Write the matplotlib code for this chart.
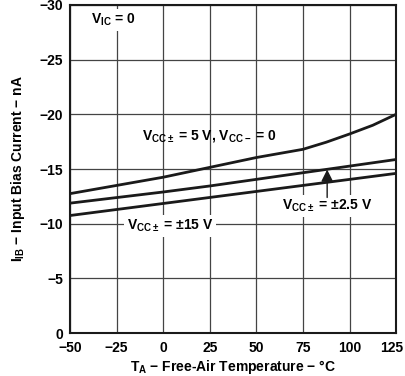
import matplotlib.pyplot as plt
import matplotlib.transforms as mtransforms
import numpy as np

plt.rcParams['font.family'] = ['Liberation Sans', 'DejaVu Sans']
plt.rcParams['font.weight'] = 'bold'
plt.rcParams['axes.labelweight'] = 'bold'
plt.rcParams['mathtext.fontset'] = 'custom'
plt.rcParams['mathtext.rm'] = 'Liberation Sans:bold'
plt.rcParams['mathtext.it'] = 'Liberation Sans:bold'
plt.rcParams['mathtext.bf'] = 'Liberation Sans:bold'

# temperatures (°C) and input bias current (nA)
temp_5v = [-50, -25, 0, 25, 50, 75, 87.5, 100, 112.5, 125]
ib_5v = [-12.75, -13.5, -14.25, -15.15, -16.05, -16.8, -17.45, -18.2, -19.0, -20.0]

temp_2p5v = [-50, 0, 25, 125]
ib_2p5v = [-11.88, -12.9, -13.45, -15.87]

temp_15v = [-50, 25, 125]
ib_15v = [-10.75, -12.4, -14.6]

xticks = [-50, -25, 0, 25, 50, 75, 100, 125]
yticks = [0, -5, -10, -15, -20, -25, -30]

fig = plt.figure(figsize=(4.05, 3.76), dpi=100)
ax = fig.add_axes([0.173, 0.114, 0.805, 0.873])

ax.plot(temp_5v, ib_5v, color='#1a1a1a', lw=2)
ax.plot(temp_2p5v, ib_2p5v, color='#1a1a1a', lw=2)
ax.plot(temp_15v, ib_15v, color='#1a1a1a', lw=2)

ax.set_xlim(-50, 125)
ax.set_ylim(0, -30)
ax.set_xticks(xticks)
ax.set_yticks(yticks)
ax.set_xticklabels([str(t).replace('-', '\u2212') for t in xticks])
ax.set_yticklabels([str(t).replace('-', '\u2212') for t in yticks])
ax.tick_params(length=0, labelsize=10)
ax.tick_params(axis='x', pad=6)
ax.tick_params(axis='y', pad=5)
ax.grid(True, color='#444444', lw=0.9)
for s in ax.spines.values():
    s.set_linewidth(1.5)
    s.set_color('#1a1a1a')

# keep the last x tick label inside the figure, as in the original
last = ax.get_xticklabels()[-1]
last.set_horizontalalignment('right')
last.set_transform(last.get_transform() + mtransforms.ScaledTranslation(7 / 100, 0, fig.dpi_scale_trans))

ax.set_xlabel(r'$\mathregular{T_A}$ − Free-Air Temperature − °C', fontsize=10, labelpad=2)
ax.set_ylabel(r'$\mathregular{I_{IB}}$ − Input Bias Current − nA', fontsize=10, labelpad=9)

box = dict(facecolor='white', edgecolor='none', pad=2)
ax.text(-39, -28.6, r'$\mathregular{V_{IC}}$ = 0', fontsize=10, va='center', bbox=box)
ax.text(-11.5, -18.0, r'$\mathregular{V_{CC\pm}}$ = 5 V, $\mathregular{V_{CC-}}$ = 0',
        fontsize=10, va='center')
ax.text(63.5, -11.6, r'$\mathregular{V_{CC\pm}}$ = ±2.5 V', fontsize=10, va='center', bbox=box)
ax.text(-19.5, -9.8, r'$\mathregular{V_{CC\pm}}$ = ±15 V', fontsize=10, va='center', bbox=box)
ax.annotate('', xy=(88, -14.95), xytext=(88, -12.4),
            arrowprops=dict(arrowstyle='-|>', color='#1a1a1a', lw=1,
                            mutation_scale=18, shrinkA=0, shrinkB=0))

fig.savefig('out.png', dpi=100)
